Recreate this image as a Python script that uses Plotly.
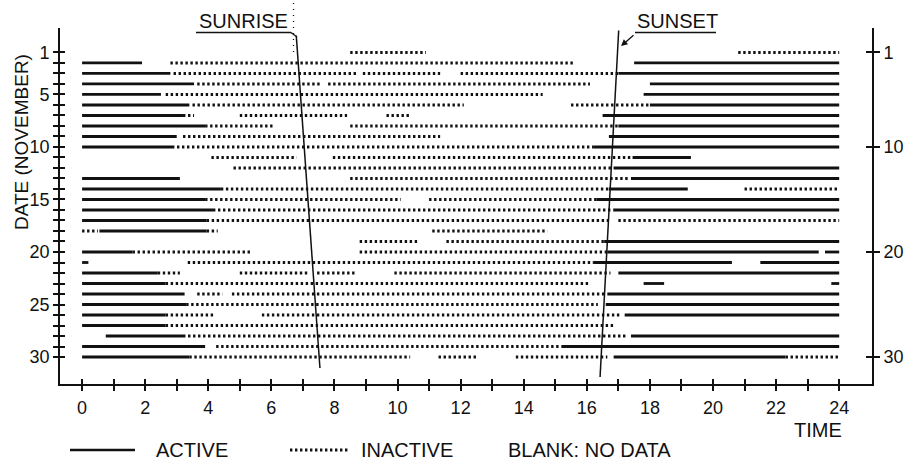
import plotly.graph_objects as go

# ---------------- data ----------------
# active (solid) segments: date, start hour, end hour
act_date = [2, 2, 3, 3, 4, 4, 5, 5, 6, 6, 7, 7, 8, 8, 9, 9, 10, 10,
            11, 12, 13, 13, 14, 14, 15, 15, 16, 16, 17, 18, 19,
            20, 20, 20, 21, 21, 21, 22, 22, 23, 23, 23, 24, 24, 25, 25,
            26, 26, 27, 28, 28, 29, 29, 30, 30]
act_start = [0, 17.5, 0, 17.0, 0, 18.0, 0, 17.8, 0, 18.0, 0, 16.5, 0, 17.0, 0, 16.7, 0, 16.2,
             17.45, 16.85, 0, 17.4, 0, 16.7, 0, 16.3, 0, 16.85, 0, 0.55, 16.55,
             0, 16.65, 23.55, 0, 16.2, 21.5, 0, 17.0, 0, 17.8, 23.75, 0, 16.65, 0, 16.6,
             0, 17.2, 0, 0.75, 17.4, 0, 15.2, 0, 16.85]
act_end = [1.9, 24, 2.8, 24, 3.55, 24, 2.5, 24, 3.4, 24, 3.2, 24, 3.9, 24, 3.0, 24, 2.85, 24,
           19.3, 24, 3.1, 24, 4.4, 19.2, 3.9, 24, 4.15, 24, 3.95, 3.95, 24,
           1.6, 23.35, 24, 0.2, 20.6, 24, 2.4, 24, 2.65, 18.45, 24, 3.25, 24, 3.3, 24,
           2.65, 24, 2.65, 3.2, 24, 3.9, 24, 3.4, 22.3]

# inactive (dotted) segments: date, start hour, end hour
ina_date = [1, 1, 2, 3, 3, 3, 4, 4, 5, 6, 6, 7, 7, 7, 8, 8, 9, 10,
            11, 11, 12, 13, 14, 14, 15, 15, 16, 17, 17, 18, 18, 18, 19, 19,
            20, 20, 21, 22, 22, 22, 22, 23, 24, 24, 25, 26, 26, 27, 28, 29,
            30, 30, 30, 30]
ina_start = [8.5, 20.8, 2.8, 2.9, 8.9, 12.0, 3.65, 7.8, 2.65, 3.5, 15.5, 3.2, 5.0, 9.65, 3.9, 8.5, 3.2, 2.85,
             4.1, 7.95, 4.8, 8.5, 4.4, 21.0, 3.9, 11.0, 4.15, 3.95, 17.0, 0, 3.95, 11.1, 8.8, 11.55,
             1.6, 8.8, 3.35, 2.4, 5.0, 7.45, 9.9, 2.65, 3.65, 4.75, 3.3, 2.65, 5.7, 2.65, 3.2, 4.25,
             3.4, 11.3, 13.75, 22.3]
ina_end = [10.9, 24, 15.6, 8.7, 11.35, 17.0, 7.55, 16.1, 14.6, 12.1, 18.0, 3.55, 8.4, 10.4, 6.05, 17.0, 11.35, 16.2,
           6.8, 17.45, 16.85, 17.3, 16.7, 24, 10.1, 16.3, 16.85, 16.7, 24, 0.5, 4.3, 14.75, 10.7, 16.55,
           5.4, 16.65, 16.2, 3.1, 7.2, 8.7, 16.75, 16.1, 4.45, 16.55, 16.35, 4.2, 17.05, 16.85, 17.3, 15.2,
           10.4, 12.5, 16.65, 24]

# sunrise / sunset lines (hour, date)
sunrise_hour = [6.79, 7.54]
sunrise_date = [-0.6, 31.05]
sunset_hour = [17.01, 16.42]
sunset_date = [-1.1, 31.9]

# ticks
x_ticks = list(range(0, 25))
x_ticktext = [str(h) if h % 2 == 0 else "" for h in x_ticks]
y_ticks = list(range(1, 31))
y_ticktext = [str(d) if d in (1, 5, 10, 15, 20, 25, 30) else "" for d in y_ticks]
y2_ticks = [1, 10, 20, 30]
y2_ticktext = ["1", "10", "20", "30"]

# ---------------- figure ----------------
INK = "#111111"
SANS = "Liberation Sans, Arial, sans-serif"
DOT = "2.4px,2.6px"


def seg_xy(dates, starts, ends):
    xs, ys = [], []
    for d, s, e in zip(dates, starts, ends):
        xs += [s, e, None]
        ys += [d, d, None]
    return xs, ys


fig = go.Figure()

ax_, ay_ = seg_xy(act_date, act_start, act_end)
fig.add_trace(go.Scatter(x=ax_, y=ay_, mode="lines", name="ACTIVE",
                         line=dict(color=INK, width=2.8), hoverinfo="skip"))
ix_, iy_ = seg_xy(ina_date, ina_start, ina_end)
fig.add_trace(go.Scatter(x=ix_, y=iy_, mode="lines", name="INACTIVE",
                         line=dict(color=INK, width=3, dash=DOT), hoverinfo="skip"))

fig.add_trace(go.Scatter(x=sunrise_hour, y=sunrise_date, mode="lines",
                         line=dict(color=INK, width=1.5), hoverinfo="skip"))
fig.add_trace(go.Scatter(x=sunset_hour, y=sunset_date, mode="lines",
                         line=dict(color=INK, width=1.5), hoverinfo="skip"))

# dummy traces so overlay axes get drawn
fig.add_trace(go.Scatter(x=[None], y=[None], xaxis="x2", yaxis="y3", hoverinfo="skip"))
fig.add_trace(go.Scatter(x=[None], y=[None], xaxis="x", yaxis="y2", hoverinfo="skip"))
fig.add_trace(go.Scatter(x=[None], y=[None], xaxis="x", yaxis="y4", hoverinfo="skip"))

XR = [-0.70, 25.04]
YR = [32.57, -1.33]
tickfont = dict(family=SANS, size=18, color=INK)
common = dict(showgrid=False, zeroline=False, automargin=False, tickcolor=INK, tickwidth=1.5)

fig.update_layout(
    template="none",
    width=904, height=460,
    margin=dict(l=60, r=32, t=28, b=76, autoexpand=False),
    paper_bgcolor="white", plot_bgcolor="white",
    showlegend=False,
    xaxis=dict(range=XR, tickvals=x_ticks, ticktext=x_ticktext, ticks="outside",
               ticklen=5, showline=True, linewidth=1.8, linecolor=INK, tickfont=tickfont,
               ticklabelstandoff=1, **common),
    xaxis2=dict(range=XR, overlaying="x", anchor="y", side="bottom", tickvals=x_ticks,
                ticks="inside", ticklen=5, showticklabels=False, showline=False, **common),
    yaxis=dict(range=YR, tickvals=y_ticks, ticktext=y_ticktext, ticks="outside",
               ticklen=5, showline=True, linewidth=1.8, linecolor=INK, tickfont=tickfont,
               **common),
    yaxis3=dict(range=YR, overlaying="y", anchor="x", side="left", tickvals=y_ticks,
                ticks="inside", ticklen=5, showticklabels=False, showline=False, **common),
    yaxis2=dict(range=YR, overlaying="y", anchor="x", side="right", tickvals=y2_ticks,
                ticktext=y2_ticktext, ticks="outside", ticklen=6, showline=True,
                linewidth=1.8, linecolor=INK, tickfont=tickfont, **common),
    yaxis4=dict(range=YR, overlaying="y", anchor="x", side="right", tickvals=y2_ticks,
                ticks="inside", ticklen=6, showticklabels=False, showline=False, **common),
)


def px(x):
    return (x - 60) / 812.0


def py(y):
    return (384 - y) / 356.0


word = dict(family=SANS, size=20, color=INK)

annos = [
    dict(text="DATE (NOVEMBER)", x=px(21), y=py(142), textangle=-90,
         font=dict(family=SANS, size=19, color=INK)),
    dict(text="TIME", x=px(818), y=py(430), font=word),
    dict(text="SUNRISE", x=px(243), y=py(21), font=word),
    dict(text="SUNSET", x=px(677), y=py(21), font=word),
    dict(text="ACTIVE", x=px(154), y=py(450), xanchor="left", font=word),
    dict(text="INACTIVE", x=px(359), y=py(450), xanchor="left", font=word),
    dict(text="BLANK: NO DATA", x=px(506), y=py(450), xanchor="left", font=word),
]
for a in annos:
    a.setdefault("xanchor", "center")
    fig.add_annotation(xref="paper", yref="paper", showarrow=False, yanchor="middle", **a)

# sunset leader arrow
fig.add_annotation(xref="paper", yref="paper", x=px(621), y=py(46), ax=14, ay=-12,
                   text="", showarrow=True, arrowhead=2, arrowsize=1, arrowwidth=1.3,
                   arrowcolor=INK)

shapes = [
    # underlines & leaders
    dict(x0=px(196), x1=px(291), y0=py(32.5), y1=py(32.5), line=dict(color=INK, width=1.6)),
    dict(x0=px(291), x1=px(297), y0=py(32.5), y1=py(37), line=dict(color=INK, width=1.3)),
    dict(x0=px(293.5), x1=px(293.5), y0=py(3), y1=py(57), line=dict(color=INK, width=1.3, dash="1px,5px")),
    dict(x0=px(635), x1=px(716), y0=py(32.5), y1=py(32.5), line=dict(color=INK, width=1.6)),
    # legend samples
    dict(x0=px(70), x1=px(135), y0=py(450), y1=py(450), line=dict(color=INK, width=2.6)),
    dict(x0=px(290), x1=px(349), y0=py(450), y1=py(450), line=dict(color=INK, width=3, dash=DOT)),
]
for s in shapes:
    fig.add_shape(type="line", xref="paper", yref="paper", **s)

fig.write_html("out.html", config={"displayModeBar": False},
               post_script="document.body.style.margin='0';document.body.style.overflow='hidden';")
